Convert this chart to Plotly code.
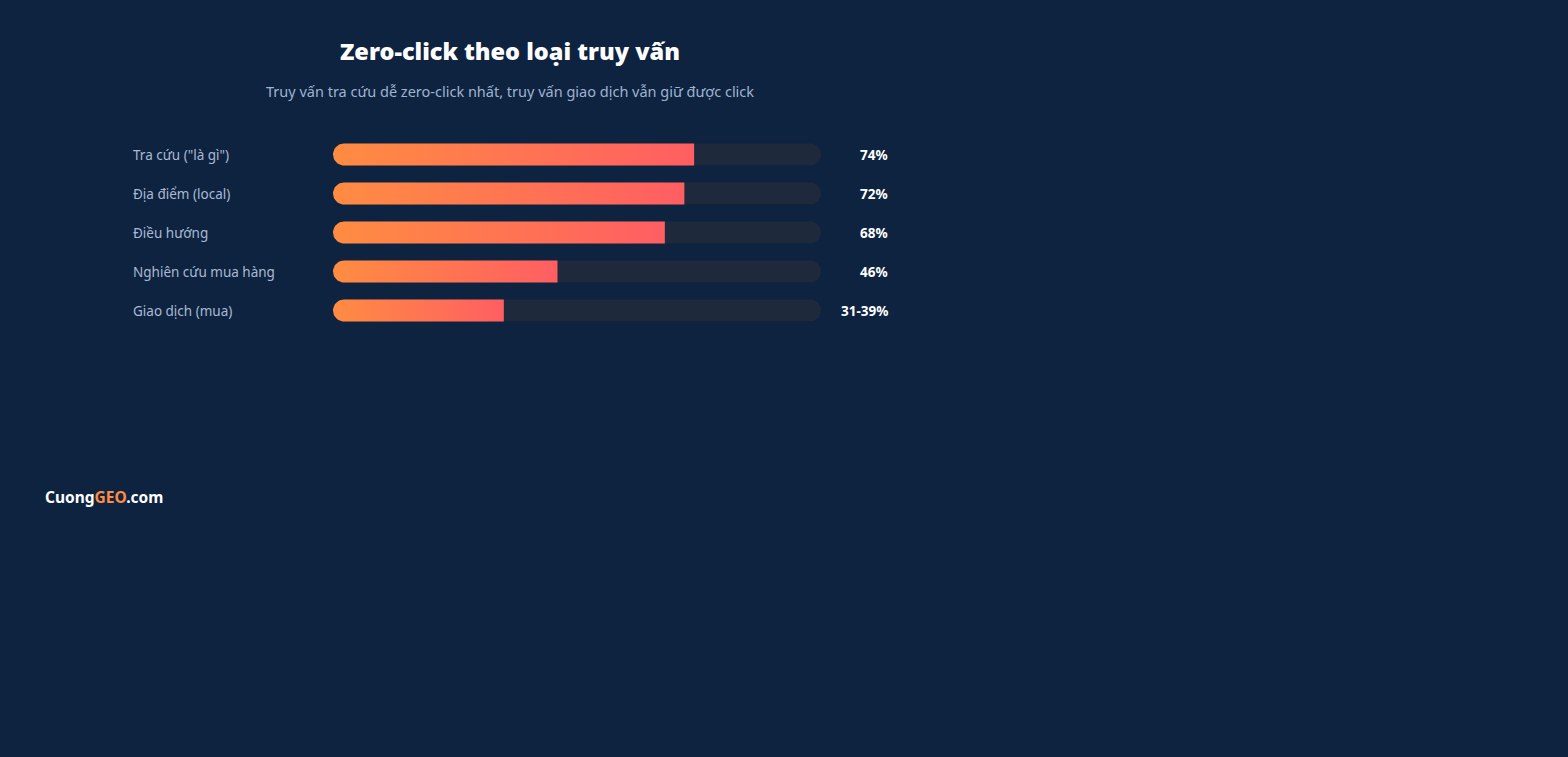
import numpy as np
import plotly.graph_objects as go

# --- data ---
categories = ['Tra cứu ("là gì")', "Địa điểm (local)", "Điều hướng",
              "Nghiên cứu mua hàng", "Giao dịch (mua)"]
values = [74, 72, 68, 46, 35]
value_labels = ["74%", "72%", "68%", "46%", "31-39%"]

# --- layout constants (pixels) ---
W, H = 1568, 757
ML, MR, MT, MB = 333, 747, 135, 427
PW, PH = W - ML - MR, H - MT - MB
BAR_PX = 22
BG = "#0e2340"
TRACK = "#1e293b"
FONT = "Segoe UI, Noto Sans, Open Sans, sans-serif"

px_x = PW / 100.0          # pixels per x unit
px_y = PH / len(categories)  # pixels per y unit
rx = (BAR_PX / 2) / px_x
ry = (BAR_PX / 2) / px_y


def pill(x0, x1, yc, round_right):
    # polygon with a rounded left end (and optionally a rounded right end)
    t = np.linspace(np.pi / 2, 3 * np.pi / 2, 25)
    xs = list(x0 + rx + rx * np.cos(t))
    ys = list(yc - ry * np.sin(t))
    if round_right:
        t2 = np.linspace(-np.pi / 2, np.pi / 2, 25)
        xs += list(x1 - rx + rx * np.cos(t2))
        ys += list(yc - ry * np.sin(t2))
    else:
        xs += [x1, x1]
        ys += [yc + ry, yc - ry]
    xs.append(xs[0])
    ys.append(ys[0])
    return xs, ys


def paper_x(px):
    return (px - ML) / PW


def paper_y(py):
    return (H - MB - py) / PH


fig = go.Figure()

for i, v in enumerate(values):
    xs, ys = pill(0, 100, i, True)
    fig.add_trace(go.Scatter(x=xs, y=ys, fill="toself", fillcolor=TRACK,
                             mode="lines", line=dict(width=0),
                             hoverinfo="skip", showlegend=False))
    xs, ys = pill(0, v, i, False)
    fig.add_trace(go.Scatter(
        x=xs, y=ys, fill="toself", mode="lines", line=dict(width=0),
        fillgradient=dict(type="horizontal",
                          colorscale=[[0, "#ff8c42"], [1, "#ff5e62"]]),
        hoverinfo="skip", showlegend=False))

    fig.add_annotation(x=paper_x(131), y=i, xref="paper", yref="y",
                       text=categories[i], showarrow=False,
                       xanchor="left", yanchor="middle",
                       font=dict(size=13.5, color="#a9bad3", family=FONT))
    fig.add_annotation(x=paper_x(890), y=i, xref="paper", yref="y",
                       text=value_labels[i], showarrow=False,
                       xanchor="right", yanchor="middle",
                       font=dict(size=13.5, color="#ffffff", family=FONT,
                                 weight="bold"))

fig.add_annotation(x=paper_x(510), y=paper_y(51), xref="paper", yref="paper",
                   text="Zero-click theo loại truy vấn", showarrow=False,
                   xanchor="center", yanchor="middle",
                   font=dict(size=23.5, color="#ffffff", family=FONT, weight=900))
fig.add_annotation(x=paper_x(510), y=paper_y(91), xref="paper", yref="paper",
                   text="Truy vấn tra cứu dễ zero-click nhất, truy vấn giao dịch vẫn giữ được click",
                   showarrow=False, xanchor="center", yanchor="middle",
                   font=dict(size=14.5, color="#9fb3d0", family=FONT))
fig.add_annotation(x=paper_x(43), y=paper_y(497), xref="paper", yref="paper",
                   text="Cuong<span style='color:#ff8c42'>GEO</span>.com",
                   showarrow=False, xanchor="left", yanchor="middle",
                   font=dict(size=15.5, color="#ffffff", family=FONT,
                             weight="bold"))

fig.update_layout(
    width=W, height=H,
    margin=dict(l=ML, r=MR, t=MT, b=MB),
    paper_bgcolor=BG, plot_bgcolor=BG,
    showlegend=False,
    xaxis=dict(range=[0, 100], visible=False, fixedrange=True),
    yaxis=dict(range=[len(categories) - 0.5, -0.5], visible=False,
               fixedrange=True),
)

fig.write_html("out.html", config={"displayModeBar": False},
               post_script="document.body.style.margin='0';"
                           "document.body.style.background='" + BG + "';")
